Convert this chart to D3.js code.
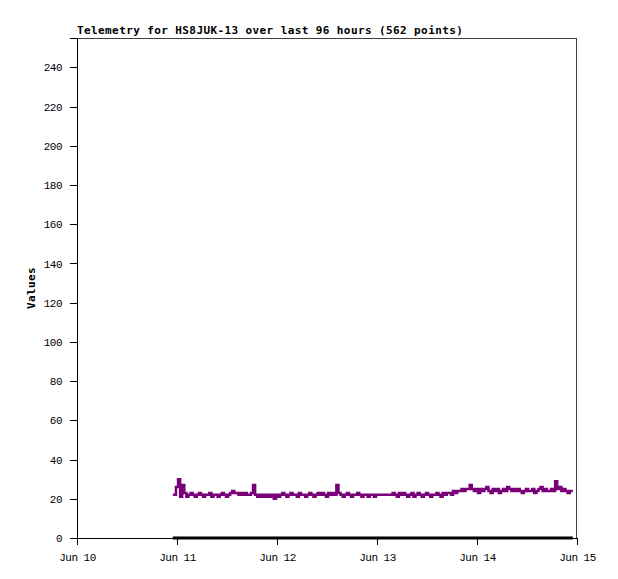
<!DOCTYPE html>
<html lang="en">
<head>
    <meta charset="UTF-8">
    <title>Telemetry for HS8JUK-13</title>
    <script src="https://d3js.org/d3.v7.min.js"></script>
    <style>
        body { margin: 0; background: #fff; }
        .tick text { font-family: "Liberation Mono", monospace; font-size: 11px; letter-spacing: -0.5px; fill: #000; }
        .title { font-family: "DejaVu Sans Mono", monospace; font-size: 11px; font-weight: bold; letter-spacing: 0.4px; }
        .axis-label { font-family: "DejaVu Sans Mono", monospace; font-size: 11px; font-weight: bold; letter-spacing: 0.4px; }
    </style>
</head>
<body>
<div id="chart"></div>
<script>
    // Telemetry samples, one every 30 minutes starting Jun 10 23:00
    const title = "Telemetry for HS8JUK-13 over last 96 hours (562 points)";
    const startTime = "2024-06-10T23:00:00Z";
    const stepMinutes = 30;
    const telemetry = [
        22, 22, 26, 30, 21, 27, 23, 21, 22, 23, 22, 21, 22, 23, 22, 21,
        22, 22, 23, 21, 22, 22, 21, 22, 23, 22, 21, 22, 23, 24, 23, 23,
        22, 23, 22, 23, 22, 22, 23, 27, 22, 21, 22, 21, 22, 21, 22, 21,
        22, 20, 22, 21, 22, 23, 22, 21, 22, 23, 22, 22, 21, 23, 22, 22,
        21, 22, 23, 22, 21, 22, 23, 22, 23, 22, 21, 23, 22, 23, 22, 27,
        23, 22, 21, 22, 23, 22, 21, 22, 22, 23, 22, 21, 22, 22, 21, 22,
        22, 21, 22, 22, 22, 22, 22, 22, 22, 22, 23, 22, 21, 23, 22, 23,
        22, 21, 22, 23, 21, 22, 23, 22, 21, 22, 23, 22, 21, 22, 22, 23,
        22, 21, 23, 22, 23, 23, 22, 24, 23, 24, 24, 25, 24, 25, 25, 27,
        25, 24, 25, 23, 25, 24, 25, 26, 24, 23, 25, 24, 25, 23, 24, 25,
        24, 26, 25, 24, 25, 24, 25, 24, 23, 24, 25, 24, 24, 25, 23, 24,
        25, 26, 24, 25, 24, 24, 25, 24, 29, 25, 26, 24, 25, 24, 23, 24,
        24
    ];
    // second series sits flat on zero over the same span
    const zeroTimes = ["2024-06-10T23:00:00Z", "2024-06-14T23:00:00Z"];
    const zeroValues = [0, 0];
    const xDomain = ["2024-06-10T00:00:00Z", "2024-06-15T00:00:00Z"];
    const yTicks = [0, 20, 40, 60, 80, 100, 120, 140, 160, 180, 200, 220, 240];
    const yMax = 255;

    const margin = {top: 38, right: 41, bottom: 41, left: 77},
          width = 618 - margin.left - margin.right,
          height = 579 - margin.top - margin.bottom;

    const svg = d3.select("#chart")
        .append("svg")
          .attr("width", 618)
          .attr("height", 579)
        .append("g")
          .attr("transform", `translate(${margin.left},${margin.top})`);

    const t0 = new Date(startTime).getTime();
    const series = telemetry.map((v, i) => ({date: new Date(t0 + i * stepMinutes * 60000), value: v}));
    const zeros = zeroTimes.map((t, i) => ({date: new Date(t), value: zeroValues[i]}));

    const x = d3.scaleUtc()
        .domain(xDomain.map(d => new Date(d)))
        .range([0, width]);
    const y = d3.scaleLinear()
        .domain([0, yMax])
        .range([height, 0]);

    // frame: top and right in dark grey
    svg.append("path")
        .attr("d", `M0,0.5H${width - 0.5}V${height}`)
        .attr("fill", "none")
        .attr("stroke", "#404040")
        .attr("shape-rendering", "crispEdges");

    svg.append("g")
        .attr("transform", `translate(0,${height})`)
        .call(d3.axisBottom(x).ticks(d3.utcDay.every(1)).tickFormat(d3.utcFormat("%b %d")).tickSizeOuter(0).tickSize(7).tickPadding(8))
        .call(g => g.selectAll("line, path").attr("stroke", "#000").attr("shape-rendering", "crispEdges"));

    svg.append("g")
        .call(d3.axisLeft(y).tickValues(yTicks).tickSizeOuter(0).tickSize(7).tickPadding(8))
        .call(g => g.selectAll("line, path").attr("stroke", "#000").attr("shape-rendering", "crispEdges"));

    const line = d3.line()
        .x(d => x(d.date))
        .y(d => y(d.value));

    svg.append("path")
        .datum(zeros)
        .attr("fill", "none")
        .attr("stroke", "#000")
        .attr("stroke-width", 3)
        .attr("d", line);

    svg.append("path")
        .datum(series)
        .attr("fill", "none")
        .attr("stroke", "#780078")
        .attr("stroke-width", 2.5)
        .attr("d", line.curve(d3.curveStep));

    svg.append("text")
        .attr("class", "title")
        .attr("x", 0)
        .attr("y", -4)
        .text(title);

    svg.append("text")
        .attr("class", "axis-label")
        .attr("transform", "rotate(-90)")
        .attr("x", -height / 2)
        .attr("y", -42)
        .attr("text-anchor", "middle")
        .text("Values");
</script>
</body>
</html>
